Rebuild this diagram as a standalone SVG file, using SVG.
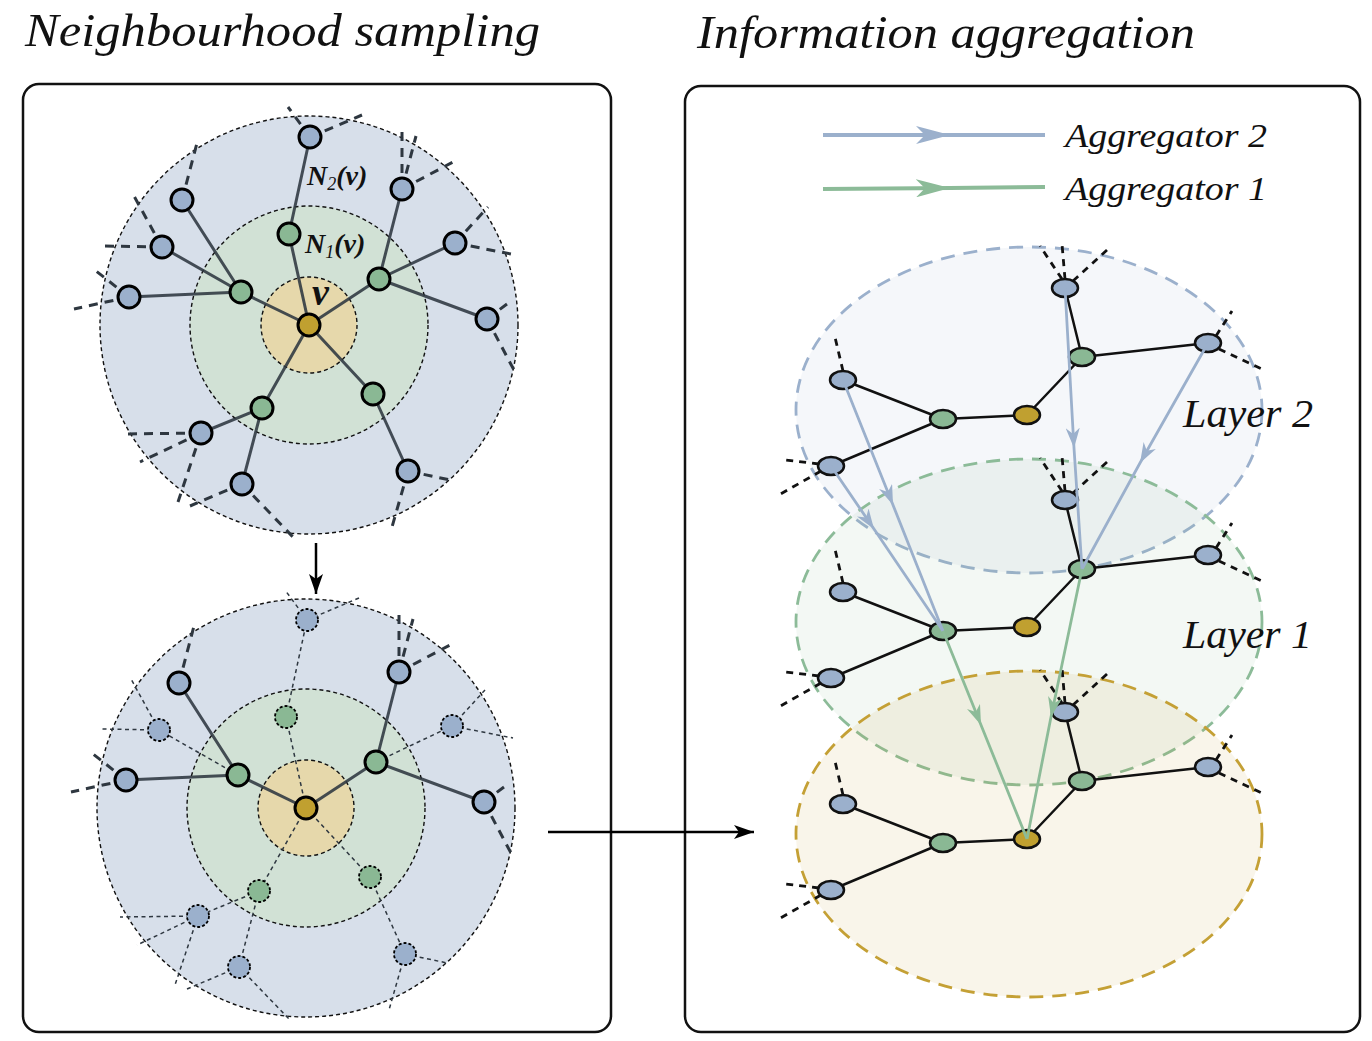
<svg xmlns="http://www.w3.org/2000/svg" width="1372" height="1041" viewBox="0 0 1372 1041">
<defs>
<style>
.title{font-family:"Liberation Serif","DejaVu Serif",serif;font-style:italic;font-size:46px;fill:#111}
.lbl{font-family:"Liberation Serif","DejaVu Serif",serif;font-style:italic;fill:#111}
.math{font-family:"Liberation Serif","DejaVu Serif",serif;font-style:italic;font-weight:bold;fill:#111}
.panel{fill:none;stroke:#111;stroke-width:2.5}
.ring{stroke:#111;stroke-width:1.4;stroke-dasharray:4 3}
.r2{fill:#d7dfea}.r1{fill:#d1e1d5}.r0{fill:#e6d8ab}
.e{stroke:#2e3740;stroke-width:3;stroke-opacity:0.88;fill:none}
.ed{stroke:#2e3740;stroke-width:1.5;stroke-dasharray:4 3.5;fill:none}
.st{stroke:#2e3740;stroke-width:3;stroke-dasharray:9 7;fill:none}
.std{stroke:#2e3740;stroke-width:1.5;stroke-dasharray:4 3.5;fill:none}
.nb{fill:#9bb0cc;stroke:#000;stroke-width:3}
.ng{fill:#8ab894;stroke:#000;stroke-width:3}
.ny{fill:#c0a030;stroke:#000;stroke-width:3}
.nbd{fill:#9bb0cc;stroke:#000;stroke-width:1.8;stroke-dasharray:3 2}
.ngd{fill:#8ab894;stroke:#000;stroke-width:1.8;stroke-dasharray:3 2}
.le{stroke:#111;stroke-width:2.5;fill:none}
.ls{stroke:#111;stroke-width:2.8;stroke-dasharray:7 6;fill:none}
.lb{fill:#9bb0cc;stroke:#111;stroke-width:2.5}
.lg{fill:#8ab894;stroke:#111;stroke-width:2.5}
.ly{fill:#c0a030;stroke:#111;stroke-width:2.5}
.ab{stroke:#9bb0cc;stroke-width:2.8;fill:none;marker-mid:url(#mb)}
.ag{stroke:#8cbb98;stroke-width:2.8;fill:none;marker-mid:url(#mg)}
</style>
<marker id="mk" viewBox="0 0 20 14" refX="20" refY="7" markerWidth="20" markerHeight="14" markerUnits="userSpaceOnUse" orient="auto"><path d="M0,0 L20,7 L0,14 L5,7 z" fill="#000"/></marker>
<marker id="mb" viewBox="0 0 20 14" refX="20" refY="7" markerWidth="20" markerHeight="14" markerUnits="userSpaceOnUse" orient="auto"><path d="M0,0 L20,7 L0,14 L6,7 z" fill="#9bb0cc"/></marker>
<marker id="mg" viewBox="0 0 20 14" refX="20" refY="7" markerWidth="20" markerHeight="14" markerUnits="userSpaceOnUse" orient="auto"><path d="M0,0 L20,7 L0,14 L6,7 z" fill="#8cbb98"/></marker>
<marker id="mbl" viewBox="0 0 34 18" refX="34" refY="9" markerWidth="34" markerHeight="18" markerUnits="userSpaceOnUse" orient="auto"><path d="M0,0 L34,9 L0,18 L9,9 z" fill="#9bb0cc"/></marker>
<marker id="mgl" viewBox="0 0 34 18" refX="34" refY="9" markerWidth="34" markerHeight="18" markerUnits="userSpaceOnUse" orient="auto"><path d="M0,0 L34,9 L0,18 L9,9 z" fill="#8cbb98"/></marker>
</defs>
<rect width="1372" height="1041" fill="#fff"/>

<!-- Titles and panels -->
<text class="title" x="25" y="46" textLength="515" lengthAdjust="spacingAndGlyphs">Neighbourhood sampling</text>
<text class="title" x="697" y="48" textLength="498" lengthAdjust="spacingAndGlyphs">Information aggregation</text>
<rect class="panel" x="23" y="84" width="588" height="948" rx="16"/>
<rect class="panel" x="685" y="86" width="675" height="946" rx="16"/>

<!-- ============ TOP SAMPLING CIRCLE ============ -->
<g id="top-regions">
<circle class="r2 ring" cx="309" cy="325" r="209"/>
<circle class="r1 ring" cx="309" cy="325" r="119"/>
<circle class="r0 ring" cx="309" cy="325" r="48"/>
</g>
<g id="top-connectors">
<path class="e" d="M309,325 L241,292 M309,325 L289,234 M309,325 L379,279 M309,325 L373,394 M309,325 L262,408 M241,292 L182,200 M241,292 L162,247 M241,292 L129,297 M289,234 L310,137 M379,279 L402,189 M379,279 L455,243 M379,279 L487,319 M373,394 L408,471 M262,408 L201,433 M262,408 L242,484"/>
<path class="st" d="M182,200 L197,143 M162,247 L134,196 M162,247 L103,246 M129,297 L96,271 M129,297 L74,309 M310,137 L288,107 M310,137 L362,115 M402,189 L402,128 M402,189 L416,136 M402,189 L453,162 M455,243 L488,207 M455,243 L516,255 M487,319 L507,304 M487,319 L515,372 M408,471 L450,480 M408,471 L392,527 M201,433 L123,434 M201,433 L140,462 M201,433 L178,502 M242,484 L190,506 M242,484 L293,537"/>
</g>
<g id="top-v"><circle class="ny" cx="309" cy="325" r="11"/></g>
<g id="top-g1"><circle class="ng" cx="241" cy="292" r="11"/></g>
<g id="top-g2"><circle class="ng" cx="289" cy="234" r="11"/></g>
<g id="top-g3"><circle class="ng" cx="379" cy="279" r="11"/></g>
<g id="top-g4"><circle class="ng" cx="373" cy="394" r="11"/></g>
<g id="top-g5"><circle class="ng" cx="262" cy="408" r="11"/></g>
<g id="top-b1"><circle class="nb" cx="182" cy="200" r="11"/></g>
<g id="top-b2"><circle class="nb" cx="162" cy="247" r="11"/></g>
<g id="top-b3"><circle class="nb" cx="129" cy="297" r="11"/></g>
<g id="top-b4"><circle class="nb" cx="310" cy="137" r="11"/></g>
<g id="top-b5"><circle class="nb" cx="402" cy="189" r="11"/></g>
<g id="top-b6"><circle class="nb" cx="455" cy="243" r="11"/></g>
<g id="top-b7"><circle class="nb" cx="487" cy="319" r="11"/></g>
<g id="top-b8"><circle class="nb" cx="408" cy="471" r="11"/></g>
<g id="top-b9"><circle class="nb" cx="201" cy="433" r="11"/></g>
<g id="top-b10"><circle class="nb" cx="242" cy="484" r="11"/></g>
<g id="top-labels">
<text class="math" x="307" y="185" font-size="28">N<tspan font-size="18" font-weight="normal" dy="5">2</tspan><tspan dy="-5">(v)</tspan></text>
<text class="math" x="305" y="253" font-size="28">N<tspan font-size="18" font-weight="normal" dy="5">1</tspan><tspan dy="-5">(v)</tspan></text>
<text class="math" x="312" y="305" font-size="38">v</text>
</g>

<!-- ============ BOTTOM SAMPLED CIRCLE ============ -->
<g id="bottom-regions">
<circle class="r2 ring" cx="306" cy="808" r="209"/>
<circle class="r1 ring" cx="306" cy="808" r="119"/>
<circle class="r0 ring" cx="306" cy="808" r="48"/>
</g>
<g id="bottom-connectors">
<path class="e" d="M306,808 L238,775 M306,808 L376,762 M238,775 L179,683 M238,775 L126,780 M376,762 L399,672 M376,762 L484,802"/>
<path class="ed" d="M306,808 L286,717 M306,808 L370,877 M306,808 L259,891 M238,775 L159,730 M286,717 L307,620 M376,762 L452,726 M370,877 L405,954 M259,891 L198,916 M259,891 L239,967"/>
<path class="st" d="M179,683 L194,626 M126,780 L93,754 M126,780 L71,792 M399,672 L399,611 M399,672 L413,619 M399,672 L450,645 M484,802 L504,787 M484,802 L512,855"/>
<path class="std" d="M159,730 L131,679 M159,730 L100,729 M307,620 L285,590 M307,620 L359,598 M452,726 L485,690 M452,726 L513,738 M405,954 L447,963 M405,954 L389,1010 M198,916 L120,917 M198,916 L137,945 M198,916 L175,985 M239,967 L187,989 M239,967 L290,1020"/>
</g>
<g id="bot-v"><circle class="ny" cx="306" cy="808" r="11"/></g>
<g id="bot-g1"><circle class="ng" cx="238" cy="775" r="11"/></g>
<g id="bot-g2"><circle class="ngd" cx="286" cy="717" r="11"/></g>
<g id="bot-g3"><circle class="ng" cx="376" cy="762" r="11"/></g>
<g id="bot-g4"><circle class="ngd" cx="370" cy="877" r="11"/></g>
<g id="bot-g5"><circle class="ngd" cx="259" cy="891" r="11"/></g>
<g id="bot-b1"><circle class="nb" cx="179" cy="683" r="11"/></g>
<g id="bot-b2"><circle class="nbd" cx="159" cy="730" r="11"/></g>
<g id="bot-b3"><circle class="nb" cx="126" cy="780" r="11"/></g>
<g id="bot-b4"><circle class="nbd" cx="307" cy="620" r="11"/></g>
<g id="bot-b5"><circle class="nb" cx="399" cy="672" r="11"/></g>
<g id="bot-b6"><circle class="nbd" cx="452" cy="726" r="11"/></g>
<g id="bot-b7"><circle class="nb" cx="484" cy="802" r="11"/></g>
<g id="bot-b8"><circle class="nbd" cx="405" cy="954" r="11"/></g>
<g id="bot-b9"><circle class="nbd" cx="198" cy="916" r="11"/></g>
<g id="bot-b10"><circle class="nbd" cx="239" cy="967" r="11"/></g>

<!-- flow arrows -->
<g id="flow-arrows">
<line x1="316" y1="543" x2="316" y2="594" stroke="#000" stroke-width="2.5" marker-end="url(#mk)"/>
<line x1="548" y1="832" x2="754" y2="832" stroke="#000" stroke-width="2.5" marker-end="url(#mk)"/>
</g>

<!-- ============ RIGHT PANEL ============ -->
<g id="legend">
<polyline points="823,135 950,135 1045,135" stroke="#9bb0cc" stroke-width="4" fill="none" marker-mid="url(#mbl)"/>
<polyline points="823,189 950,188 1045,187" stroke="#8cbb98" stroke-width="4" fill="none" marker-mid="url(#mgl)"/>
<text class="lbl" x="1065" y="147" font-size="34" textLength="202" lengthAdjust="spacingAndGlyphs">Aggregator 2</text>
<text class="lbl" x="1065" y="200" font-size="34" textLength="202" lengthAdjust="spacingAndGlyphs">Aggregator 1</text>
</g>

<g id="layer-planes">
<ellipse cx="1029" cy="410" rx="233" ry="163" fill="#9bb0cc" fill-opacity="0.1" stroke="#9bb0cc" stroke-width="2.8" stroke-dasharray="14 9"/>
<ellipse cx="1029" cy="622" rx="233" ry="163" fill="#8cbb98" fill-opacity="0.1" stroke="#8cbb98" stroke-width="2.8" stroke-dasharray="14 9"/>
<ellipse cx="1029" cy="834" rx="233" ry="163" fill="#c4a035" fill-opacity="0.1" stroke="#c4a035" stroke-width="2.8" stroke-dasharray="14 9"/>
</g>

<!-- Layer 2 -->
<g id="layer2-connectors">
<path class="le" d="M843,380 L943,419 M831,466 L943,419 M943,419 L1027,415 M1027,415 L1082,357 M1082,357 L1065,288 M1082,357 L1208,343"/>
<path class="ls" d="M843,371 L834,333 M819,464 L785,460 M821,471 L777,496 M1062,279 L1040,246 M1065,279 L1062,244 M1073,281 L1107,250 M1216,336 L1232,311 M1219,349 L1262,369"/>
</g>
<g id="l2-b1"><ellipse class="lb" cx="843" cy="380" rx="13" ry="9"/></g>
<g id="l2-b2"><ellipse class="lb" cx="831" cy="466" rx="13" ry="9"/></g>
<g id="l2-g1"><ellipse class="lg" cx="943" cy="419" rx="13" ry="9"/></g>
<g id="l2-y"><ellipse class="ly" cx="1027" cy="415" rx="13" ry="9"/></g>
<g id="l2-g2"><ellipse class="lg" cx="1082" cy="357" rx="13" ry="9"/></g>
<g id="l2-b3"><ellipse class="lb" cx="1065" cy="288" rx="13" ry="9"/></g>
<g id="l2-b4"><ellipse class="lb" cx="1208" cy="343" rx="13" ry="9"/></g>

<!-- Layer 1 -->
<g id="layer1-connectors">
<path class="le" d="M843,592 L943,631 M831,678 L943,631 M943,631 L1027,627 M1027,627 L1082,569 M1082,569 L1065,500 M1082,569 L1208,555"/>
<path class="ls" d="M843,583 L834,545 M819,676 L785,672 M821,683 L777,708 M1062,491 L1040,458 M1065,491 L1062,456 M1073,493 L1107,462 M1216,548 L1232,523 M1219,561 L1262,581"/>
</g>
<g id="l1-b1"><ellipse class="lb" cx="843" cy="592" rx="13" ry="9"/></g>
<g id="l1-b2"><ellipse class="lb" cx="831" cy="678" rx="13" ry="9"/></g>
<g id="l1-g1"><ellipse class="lg" cx="943" cy="631" rx="13" ry="9"/></g>
<g id="l1-y"><ellipse class="ly" cx="1027" cy="627" rx="13" ry="9"/></g>
<g id="l1-g2"><ellipse class="lg" cx="1082" cy="569" rx="13" ry="9"/></g>
<g id="l1-b3"><ellipse class="lb" cx="1065" cy="500" rx="13" ry="9"/></g>
<g id="l1-b4"><ellipse class="lb" cx="1208" cy="555" rx="13" ry="9"/></g>

<!-- Layer 0 -->
<g id="layer0-connectors">
<path class="le" d="M843,804 L943,843 M831,890 L943,843 M943,843 L1027,839 M1027,839 L1082,781 M1082,781 L1065,712 M1082,781 L1208,767"/>
<path class="ls" d="M843,795 L834,757 M819,888 L785,884 M821,895 L777,920 M1062,703 L1040,670 M1065,703 L1062,668 M1073,705 L1107,674 M1216,760 L1232,735 M1219,773 L1262,793"/>
</g>
<g id="l0-b1"><ellipse class="lb" cx="843" cy="804" rx="13" ry="9"/></g>
<g id="l0-b2"><ellipse class="lb" cx="831" cy="890" rx="13" ry="9"/></g>
<g id="l0-g1"><ellipse class="lg" cx="943" cy="843" rx="13" ry="9"/></g>
<g id="l0-y"><ellipse class="ly" cx="1027" cy="839" rx="13" ry="9"/></g>
<g id="l0-g2"><ellipse class="lg" cx="1082" cy="781" rx="13" ry="9"/></g>
<g id="l0-b3"><ellipse class="lb" cx="1065" cy="712" rx="13" ry="9"/></g>
<g id="l0-b4"><ellipse class="lb" cx="1208" cy="767" rx="13" ry="9"/></g>

<g id="aggregation-arrows">
<polyline class="ab" points="843,380 893,505 943,631"/>
<polyline class="ab" points="831,466 874,529 943,631"/>
<polyline class="ab" points="1065,288 1074,448 1082,569"/>
<polyline class="ab" points="1208,343 1140,463 1082,569"/>
<polyline class="ag" points="943,631 981,725 1027,839"/>
<polyline class="ag" points="1082,569 1051,717 1027,839"/>
</g>

<g id="layer-labels">
<text class="lbl" x="1183" y="427" font-size="40" textLength="130" lengthAdjust="spacingAndGlyphs">Layer 2</text>
<text class="lbl" x="1183" y="648" font-size="40" textLength="129" lengthAdjust="spacingAndGlyphs">Layer 1</text>
</g>
</svg>
